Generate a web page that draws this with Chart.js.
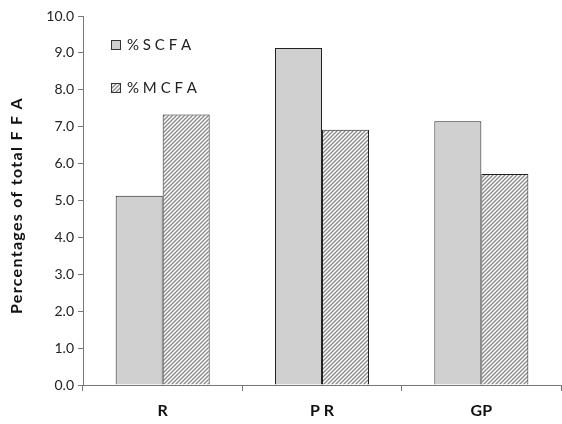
<!DOCTYPE html>
<html>
<head>
<meta charset="utf-8">
<script src="https://cdn.jsdelivr.net/npm/chart.js@4"></script>
<style>
  html, body { margin: 0; padding: 0; background: #fff; }
  #wrap { width: 562px; height: 424px; }
</style>
</head>
<body>
<div id="wrap"><canvas id="myChart" width="562" height="424"></canvas></div>
<script>
var categories = ['R', 'P R', 'GP'];
var scfa = [5.13, 9.13, 7.15];
var mcfa = [7.33, 6.92, 5.72];
var yTicks = [0, 1, 2, 3, 4, 5, 6, 7, 8, 9, 10];

// diagonal hatch for the MCFA bars
function makeHatch() {
    var c = document.createElement('canvas');
    c.width = 4; c.height = 4;
    var g = c.getContext('2d');
    g.fillStyle = '#fff';
    g.fillRect(0, 0, 4, 4);
    g.strokeStyle = '#8a8a8a';
    g.lineWidth = 1.3;
    g.beginPath();
    g.moveTo(-1, 5); g.lineTo(5, -1);
    g.moveTo(-1, 1); g.lineTo(1, -1);
    g.moveTo(3, 5); g.lineTo(5, 3);
    g.stroke();
    return g.createPattern(c, 'repeat');
}
var hatch = makeHatch();
var fontName = 'Lato, "Open Sans", sans-serif';

// legend inside the plot + y title with letter spacing
const extras = {
    id: 'extras',
    afterDraw: function (chart) {
        const ctx = chart.ctx;
        const items = [
            { label: '% S C F A', fill: '#d0d0d0', y: 45 },
            { label: '% M C F A', fill: hatch, y: 88 }
        ];
        ctx.save();
        ctx.font = '15px ' + fontName;
        ctx.textBaseline = 'middle';
        for (const it of items) {
            ctx.fillStyle = it.fill;
            ctx.fillRect(111, it.y - 5, 10, 10);
            ctx.strokeStyle = '#333';
            ctx.lineWidth = 1;
            ctx.strokeRect(111.5, it.y - 4.5, 9, 9);
            ctx.fillStyle = '#222';
            ctx.fillText(it.label, 127, it.y);
        }
        const a = chart.chartArea;
        ctx.translate(17, (a.top + a.bottom) / 2 + 5);
        ctx.rotate(-Math.PI / 2);
        ctx.font = 'bold 16px ' + fontName;
        ctx.letterSpacing = '1.3px';
        ctx.textAlign = 'center';
        ctx.fillStyle = '#111';
        ctx.fillText('Percentages of total F F A', 0, 0);
        ctx.restore();
    }
};

const ctx = document.getElementById('myChart');
new Chart(ctx, {
    type: 'bar',
    data: {
        labels: categories,
        datasets: [{
            label: '% SCFA',
            data: scfa,
            backgroundColor: '#d0d0d0',
            borderColor: '#222',
            borderWidth: 1
        }, {
            label: '% MCFA',
            data: mcfa,
            backgroundColor: hatch,
            borderColor: '#222',
            borderWidth: 1
        }]
    },
    options: {
        responsive: false,
        animation: false,
        layout: { padding: { top: 16, right: 1, left: 0, bottom: 0 } },
        plugins: { legend: { display: false }, tooltip: { enabled: false } },
        datasets: { bar: { categoryPercentage: 0.59, barPercentage: 1 } },
        scales: {
            x: {
                grid: { offset: true, drawOnChartArea: false, tickLength: 6, color: '#777' },
                border: { color: '#777' },
                ticks: { color: '#111', font: { family: fontName, size: 16, weight: 'bold' }, padding: 10 },
                afterFit: function (scale) { scale.height = 39; }
            },
            y: {
                min: 0,
                max: 10,
                afterBuildTicks: function (scale) {
                    scale.ticks = yTicks.map(function (v) { return { value: v }; });
                },
                grid: { drawOnChartArea: false, tickLength: 5, color: '#777' },
                border: { color: '#777' },
                ticks: {
                    color: '#222',
                    font: { family: fontName, size: 14 },
                    padding: 4,
                    callback: function (v) { return Number(v).toFixed(1); }
                },
                afterFit: function (scale) { scale.width = 83; }
            }
        }
    },
    plugins: [extras]
});
</script>
</body>
</html>
